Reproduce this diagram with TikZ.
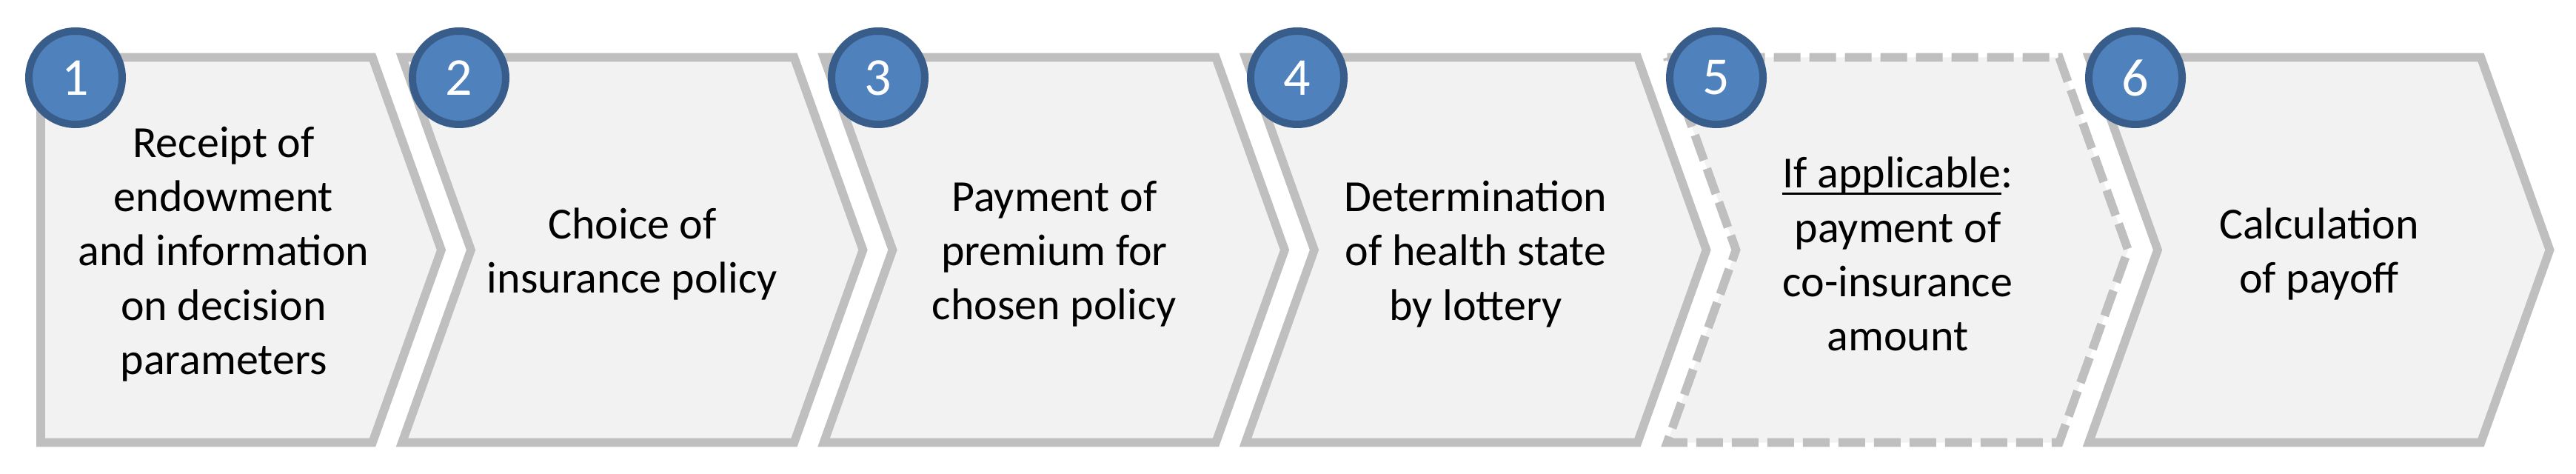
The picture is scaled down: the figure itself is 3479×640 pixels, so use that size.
\documentclass[tikz,border=0pt]{standalone}
\usepackage{fontspec}
\setmainfont{Carlito}
\definecolor{boxfill}{HTML}{F2F2F2}
\definecolor{boxline}{HTML}{BFBFBF}
\definecolor{numfill}{HTML}{4F81BD}
\definecolor{numline}{HTML}{385D8A}
\newcommand\ulx[1]{\setbox0\hbox{#1}\rlap{\rule[-2.4pt]{\wd0}{0.75pt}}\box0}
\tikzset{
  stepshape/.style={fill=boxfill, draw=boxline, line width=2.9pt, line join=miter},
  stepdashed/.style={stepshape, dash pattern=on 9pt off 3pt},
  numcircle/.style={circle, fill=numfill, draw=numline, line width=2.5pt,
    minimum size=31.5pt, inner sep=0pt, text=white, font=\fontsize{18}{20}\selectfont},
  steptext/.style={align=center, font=\fontsize{15}{18.3}\selectfont, inner sep=0pt, text=black}
}
\begin{document}
\begin{tikzpicture}[x=0.25pt,y=-0.25pt]
\useasboundingbox (0,0) rectangle (3479,640);
% step shapes
\draw[stepshape] (55,77.5) -- (503,77.5) -- (596,337.5) -- (503,597.5) -- (55,597.5) -- cycle;
\draw[stepshape] (543,77.5) -- (1072.5,77.5) -- (1165.5,337.5) -- (1072.5,597.5) -- (543,597.5) -- (636,337.5) -- cycle;
\draw[stepshape] (1112.5,77.5) -- (1642,77.5) -- (1735,337.5) -- (1642,597.5) -- (1112.5,597.5) -- (1205.5,337.5) -- cycle;
\draw[stepshape] (1682,77.5) -- (2211.5,77.5) -- (2304.5,337.5) -- (2211.5,597.5) -- (1682,597.5) -- (1775,337.5) -- cycle;
\draw[stepdashed] (2251.5,77.5) -- (2781,77.5) -- (2874,337.5) -- (2781,597.5) -- (2251.5,597.5) -- (2344.5,337.5) -- cycle;
\draw[stepshape] (2821,77.5) -- (3350.5,77.5) -- (3443.5,337.5) -- (3350.5,597.5) -- (2821,597.5) -- (2914,337.5) -- cycle;
% texts
\node[steptext] (b1) at (302,343) {Receipt of\\endowment\\and information\\on decision\\parameters};
\node[steptext] (b2) at (854,343) {Choice of\\insurance policy};
\node[steptext] (b3) at (1424,343) {Payment of\\premium for\\chosen policy};
\node[steptext] (b4) at (1993,343) {Determination\\of health state\\by lottery};
\node[steptext] (b5) at (2563,343) {\ulx{If applicable}:\\payment of\\co-insurance\\amount};
\node[steptext] (b6) at (3132,343) {Calculation\\of payoff};
% number circles
\node[numcircle] (c1) at (102,105) {1};
\node[numcircle] (c2) at (620,105) {2};
\node[numcircle] (c3) at (1186,105) {3};
\node[numcircle] (c4) at (1752,105) {4};
\node[numcircle] (c5) at (2318,105) {5};
\node[numcircle] (c6) at (2884,105) {6};
\end{tikzpicture}
\end{document}
